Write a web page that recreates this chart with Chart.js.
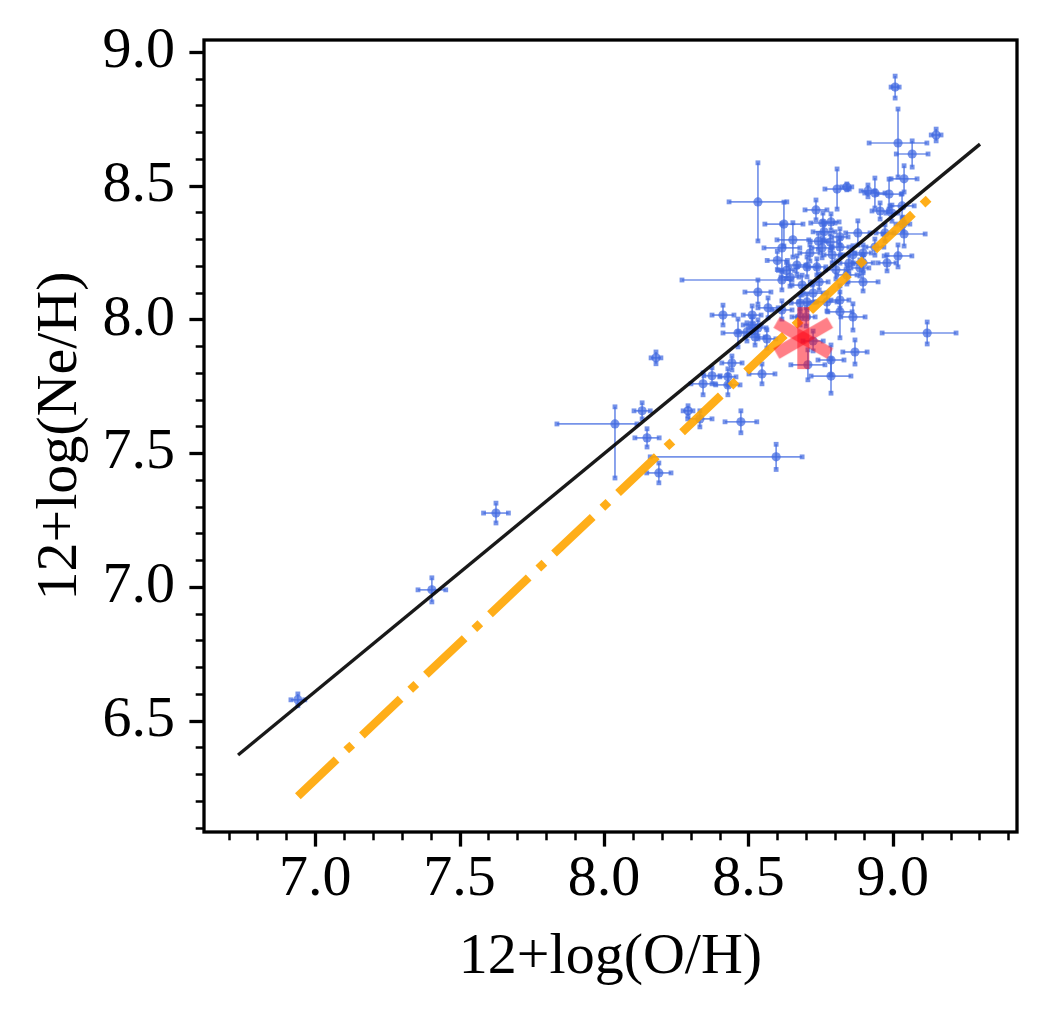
<!DOCTYPE html>
<html><head><meta charset="utf-8">
<script src="https://cdn.jsdelivr.net/npm/chart.js@4.4.0/dist/chart.umd.min.js"></script>
<style>html,body{margin:0;padding:0;background:#fff;}#wrap{width:1046px;height:1017px;}</style>
</head><body><div id="wrap"><canvas id="c" width="1046" height="1017"></canvas></div>
<script>
// ---- data ----
const ohValues = [
 9.008,9.150,9.018,9.067,9.039,8.533,8.807,8.841,8.914,8.938,
 8.987,9.032,8.734,8.623,8.654,8.616,8.758,8.786,8.762,8.817,
 8.879,8.956,8.997,9.039,9.018,9.035,8.713,8.755,8.790,8.817,
 8.862,8.897,8.668,8.703,8.783,8.897,8.533,8.616,8.644,8.686,
 8.841,8.897,8.886,8.724,8.703,8.772,8.817,8.817,8.862,8.568,
 8.513,8.412,8.464,8.495,8.523,8.564,8.533,8.700,8.724,8.706,
 8.786,8.786,8.869,9.119,8.443,8.547,8.429,8.429,8.374,8.343,
 8.180,8.132,8.291,8.332,8.474,8.149,8.190,8.038,8.596,7.626,
 7.404,6.940,8.737,8.616,8.679,8.679,8.513,8.973,8.980,8.938,
 8.600,8.632,8.745,8.803,8.848,8.742];
const nehValues = [
 8.868,8.689,8.659,8.618,8.525,8.439,8.487,8.495,8.480,8.472,
 8.468,8.424,8.409,8.356,8.297,8.267,8.360,8.364,8.327,8.308,
 8.323,8.405,8.397,8.319,8.237,8.356,8.248,8.267,8.241,8.270,
 8.241,8.248,8.203,8.196,8.289,8.211,8.102,8.147,8.158,8.128,
 8.166,8.140,8.192,8.098,8.065,8.065,8.072,8.028,8.009,8.043,
 8.016,8.016,7.949,7.953,7.934,7.927,7.968,8.009,7.919,7.830,
 7.848,7.788,7.878,7.949,7.837,7.796,7.785,7.755,7.789,7.759,
 7.856,7.658,7.658,7.628,7.617,7.557,7.426,7.609,7.486,7.276,
 6.989,6.578,8.196,8.035,8.061,8.009,7.979,8.323,8.211,8.270,
 8.220,8.183,8.140,8.185,8.210,8.292];
const ohErrMinus = [
 .014,.017,.100,.055,.045,.100,.042,.017,.024,.035,
 .042,.042,.038,.066,.055,.062,.042,.028,.038,.028,
 .042,.028,.021,.073,.048,.024,.035,.035,.028,.031,
 .035,.028,.031,.035,.028,.035,.045,.346,.031,.035,
 .035,.052,.031,.035,.028,.035,.031,.042,.042,.035,
 .031,.038,.052,.031,.035,.031,.028,.031,.035,.059,
 .045,.069,.042,.156,.035,.045,.028,.042,.028,.042,
 .017,.028,.017,.042,.055,.042,.042,.201,.436,.043,
 .048,.024,.031,.035,.031,.028,.031,.031,.031,.031,
 .035,.028,.031,.035,.031,.028];
const ohErrPlus = [
 .014,.017,.100,.055,.045,.100,.042,.017,.024,.035,
 .042,.042,.038,.066,.055,.062,.042,.028,.038,.028,
 .042,.028,.021,.073,.048,.024,.035,.035,.028,.031,
 .035,.028,.031,.035,.028,.035,.045,.035,.031,.035,
 .035,.052,.031,.035,.028,.035,.031,.042,.042,.035,
 .031,.038,.052,.031,.035,.031,.028,.031,.035,.059,
 .045,.069,.042,.100,.035,.045,.028,.042,.028,.042,
 .017,.028,.017,.042,.055,.042,.042,.076,.090,.043,
 .048,.024,.031,.035,.031,.028,.031,.031,.031,.031,
 .035,.028,.031,.035,.031,.028];
const nehErrMinus = [
 .041,.022,.127,.049,.049,.146,.075,.011,.022,.056,
 .056,.045,.037,.082,.064,.090,.037,.030,.030,.030,
 .045,.030,.030,.045,.041,.026,.030,.037,.030,.034,
 .034,.030,.034,.037,.030,.030,.045,.037,.034,.037,
 .034,.034,.030,.034,.030,.034,.030,.097,.049,.037,
 .034,.037,.052,.034,.030,.034,.030,.034,.037,.056,
 .056,.064,.045,.041,.026,.037,.030,.037,.030,.041,
 .022,.030,.019,.030,.041,.034,.037,.202,.047,.037,
 .045,.022,.030,.034,.030,.030,.030,.030,.030,.030,
 .034,.030,.030,.034,.030,.030];
const nehErrPlus = [
 .041,.022,.127,.049,.049,.146,.075,.011,.022,.056,
 .056,.045,.037,.082,.064,.090,.037,.030,.030,.030,
 .045,.030,.030,.045,.041,.026,.030,.037,.030,.034,
 .034,.030,.034,.037,.030,.030,.045,.037,.034,.037,
 .034,.034,.030,.034,.030,.034,.030,.097,.049,.037,
 .034,.037,.052,.034,.030,.034,.030,.034,.037,.056,
 .056,.064,.045,.041,.026,.037,.030,.037,.030,.041,
 .022,.030,.019,.030,.041,.034,.037,.064,.047,.037,
 .045,.022,.030,.034,.030,.030,.030,.030,.030,.030,
 .034,.030,.030,.034,.030,.030];
const solarOH = [8.69];
const solarNeH = [7.93];
const relationOH = [6.733, 9.302];
const relationNeH = [6.372, 8.655];
const fitOH = [6.94, 9.14];
const fitNeH = [6.218, 8.467];
const xTickLabels = ['7.0','7.5','8.0','8.5','9.0'];
const yTickLabels = ['6.5','7.0','7.5','8.0','8.5','9.0'];
const xLimits = [6.615, 9.43];
const yLimits = [6.084, 9.044];
const xTitle = '12+log(O/H)';
const yTitle = '12+log(Ne/H)';

// ---- styling ----
const FONT = {family: '"Liberation Serif","Times New Roman",serif', size: 58, lineHeight: 1.2};
const BLUE = 'rgba(65,105,225,0.72)';

function minorTicks(lim){
  const out = [];
  for (let k = Math.ceil(lim[0]*10); k <= Math.floor(lim[1]*10); k++) out.push(k/10);
  return out;
}
function labelFor(labels){
  return (v) => { const s = labels.find(l => Math.abs(parseFloat(l) - v) < 1e-6); return s || ''; };
}

// asterisk marker image
const star = document.createElement('canvas');
star.width = 72; star.height = 72;
(function(){
  const c = star.getContext('2d');
  c.strokeStyle = 'rgba(255,10,25,0.52)';
  c.lineWidth = 12; c.lineCap = 'butt';
  for (let i = 0; i < 3; i++){
    const a = Math.PI/2 + i*Math.PI/3;
    const r = 31;
    c.beginPath();
    c.moveTo(36 + r*Math.cos(a), 36 - r*Math.sin(a));
    c.lineTo(36 - r*Math.cos(a), 36 + r*Math.sin(a));
    c.stroke();
  }
})();

const errorBars = {
  id: 'errorBars',
  beforeDatasetsDraw(chart){
    const {ctx, chartArea: a, scales: {x, y}} = chart;
    ctx.save();
    ctx.beginPath(); ctx.rect(a.left, a.top, a.right - a.left, a.bottom - a.top); ctx.clip();
    ctx.strokeStyle = BLUE; ctx.fillStyle = BLUE; ctx.lineWidth = 1.7;
    const cap = 4.8;
    for (let i = 0; i < ohValues.length; i++){
      const px = x.getPixelForValue(ohValues[i]);
      const py = y.getPixelForValue(nehValues[i]);
      const x1 = x.getPixelForValue(ohValues[i] - ohErrMinus[i]);
      const x2 = x.getPixelForValue(ohValues[i] + ohErrPlus[i]);
      const y1 = y.getPixelForValue(nehValues[i] - nehErrMinus[i]);
      const y2 = y.getPixelForValue(nehValues[i] + nehErrPlus[i]);
      ctx.beginPath(); ctx.moveTo(x1, py); ctx.lineTo(x2, py); ctx.stroke();
      ctx.beginPath(); ctx.moveTo(px, y1); ctx.lineTo(px, y2); ctx.stroke();
      ctx.fillRect(x1 - cap/2, py - cap/2, cap, cap);
      ctx.fillRect(x2 - cap/2, py - cap/2, cap, cap);
      ctx.fillRect(px - cap/2, y1 - cap/2, cap, cap);
      ctx.fillRect(px - cap/2, y2 - cap/2, cap, cap);
    }
    ctx.restore();
  }
};

const frameTicks = {
  id: 'frameTicks',
  afterDraw(chart){
    const {ctx, chartArea: a, scales} = chart;
    ctx.save();
    ctx.strokeStyle = '#000';
    const draw = (scale, horiz) => {
      scale.ticks.forEach(t => {
        const major = Math.abs(t.value*2 - Math.round(t.value*2)) < 1e-6;
        const len = major ? 14.6 : 8.3;
        ctx.lineWidth = major ? 3.3 : 2.5;
        const p = Math.round(scale.getPixelForValue(t.value)) + 0.5;
        ctx.beginPath();
        if (horiz){ ctx.moveTo(p, a.bottom); ctx.lineTo(p, a.bottom + len); }
        else { ctx.moveTo(a.left, p); ctx.lineTo(a.left - len, p); }
        ctx.stroke();
      });
    };
    draw(scales.x, true); draw(scales.y, false);
    ctx.lineWidth = 3.3;
    ctx.strokeRect(a.left, a.top, a.right - a.left, a.bottom - a.top);
    ctx.restore();
  }
};

function zeroPad(scale){ scale.paddingTop = 0; scale.paddingBottom = 0; scale.paddingLeft = 0; scale.paddingRight = 0; }

new Chart(document.getElementById('c'), {
  type: 'scatter',
  data: {
    datasets: [
      { label: 'galaxies', order: 4,
        data: ohValues.map((v, i) => ({x: v, y: nehValues[i]})),
        pointRadius: 4.6, pointBackgroundColor: BLUE, pointBorderWidth: 0, pointHoverRadius: 4.6 },
      { label: 'relation', order: 3, showLine: true,
        data: relationOH.map((v, i) => ({x: v, y: relationNeH[i]})),
        borderColor: 'rgba(0,0,0,0.9)', borderWidth: 3.4, pointRadius: 0, fill: false },
      { label: 'fit', order: 2, showLine: true,
        data: fitOH.map((v, i) => ({x: v, y: fitNeH[i]})),
        borderColor: 'rgba(255,165,0,0.9)', borderWidth: 8.3, borderCapStyle: 'butt',
        borderDash: [53.3, 13.3, 8.3, 13.3], pointRadius: 0, fill: false },
      { label: 'sun', order: 1,
        data: solarOH.map((v, i) => ({x: v, y: solarNeH[i]})),
        pointStyle: star, pointRadius: 34 }
    ]
  },
  options: {
    responsive: false, animation: false, devicePixelRatio: 1,
    layout: {autoPadding: false, padding: {left: 0, right: 29, top: 40, bottom: 0}},
    plugins: {legend: {display: false}, tooltip: {enabled: false}},
    scales: {
      x: {
        type: 'linear', min: xLimits[0], max: xLimits[1],
        grid: {display: false, drawTicks: false}, border: {display: false},
        afterBuildTicks: (s) => { s.ticks = minorTicks(xLimits).map(v => ({value: v})); },
        afterFit: (s) => { s.height = 185; zeroPad(s); },
        ticks: {autoSkip: false, maxRotation: 0, minRotation: 0, padding: 13, color: '#000', font: FONT,
                callback: labelFor(xTickLabels)},
        title: {display: true, text: xTitle, color: '#000', font: FONT, padding: {top: 0, bottom: 24}}
      },
      y: {
        type: 'linear', min: yLimits[0], max: yLimits[1],
        grid: {display: false, drawTicks: false}, border: {display: false},
        afterBuildTicks: (s) => { s.ticks = minorTicks(yLimits).map(v => ({value: v})); },
        afterFit: (s) => { s.width = 204; zeroPad(s); },
        ticks: {autoSkip: false, padding: 29, color: '#000', font: FONT,
                callback: labelFor(yTickLabels)},
        title: {display: true, text: yTitle, color: '#000', font: FONT, padding: {top: 26, bottom: 0}}
      }
    }
  },
  plugins: [errorBars, frameTicks]
});
</script>
</body></html>
